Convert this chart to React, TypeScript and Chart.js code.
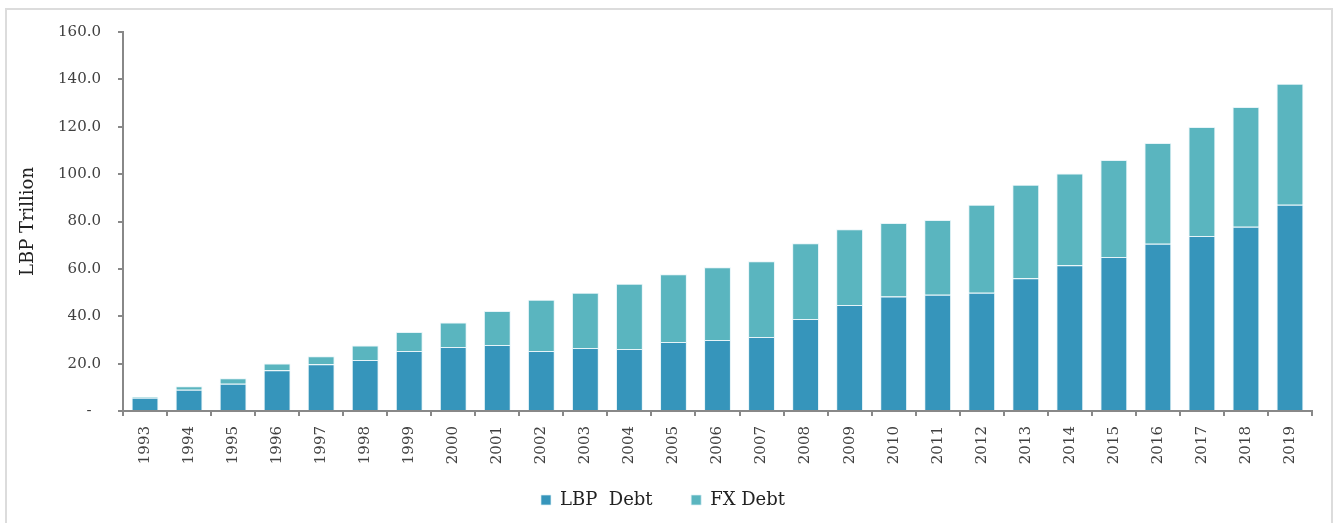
import React, { useEffect, useRef } from "react";
import { Chart, registerables } from "chart.js";

Chart.register(...registerables);

const years: string[] = [
  "1993", "1994", "1995", "1996", "1997", "1998", "1999", "2000", "2001",
  "2002", "2003", "2004", "2005", "2006", "2007", "2008", "2009", "2010",
  "2011", "2012", "2013", "2014", "2015", "2016", "2017", "2018", "2019",
];

// Debt in local currency (LBP trillion)
const lbpDebt: number[] = [
  5.6, 9.0, 11.5, 17.2, 19.7, 21.5, 25.3, 27.0, 27.9,
  25.3, 26.6, 26.2, 29.1, 30.0, 31.2, 38.8, 44.7, 48.3,
  49.1, 49.9, 56.0, 61.5, 65.0, 70.6, 73.9, 77.8, 87.1,
];

// Foreign-currency debt (LBP trillion), stacked on top
const fxDebt: number[] = [
  0.4, 1.4, 2.3, 2.9, 3.4, 6.2, 8.0, 10.4, 14.3,
  21.7, 23.3, 27.5, 28.6, 30.7, 32.0, 32.0, 32.0, 31.1,
  31.5, 37.2, 39.5, 38.8, 41.0, 42.5, 46.0, 50.5, 51.1,
];

const yTicks: number[] = [0, 20, 40, 60, 80, 100, 120, 140, 160];

const FONT = "'DejaVu Serif', 'Liberation Serif', serif";

export default function App() {
  const canvasRef = useRef<HTMLCanvasElement | null>(null);

  useEffect(() => {
    const canvas = canvasRef.current;
    if (!canvas) return;
    const chart = new Chart(canvas, {
      type: "bar",
      data: {
        labels: years,
        datasets: [
          {
            label: "LBP  Debt",
            data: lbpDebt,
            backgroundColor: "#3695bb",
            borderColor: "rgba(220,240,245,0.7)",
            borderWidth: 1,
            categoryPercentage: 1,
            barPercentage: 0.61,
          },
          {
            label: "FX Debt",
            data: fxDebt,
            backgroundColor: "#5ab5bf",
            borderColor: "rgba(220,240,245,0.7)",
            borderWidth: 1,
            categoryPercentage: 1,
            barPercentage: 0.61,
          },
        ],
      },
      options: {
        animation: false,
        responsive: false,
        layout: { padding: { left: 14, right: 24, top: 32, bottom: 4 } },
        plugins: {
          tooltip: { enabled: false },
          legend: {
            position: "bottom",
            labels: {
              boxWidth: 10,
              boxHeight: 10,
              padding: 10,
              color: "#222",
              font: { family: FONT, size: 18 },
              // widen the gap after the first entry without growing the legend height
              generateLabels: (c: any) => {
                const items = Chart.defaults.plugins.legend.labels.generateLabels(c);
                return items.map((it: any, i: number) =>
                  i < items.length - 1 ? { ...it, text: it.text + "     " } : it
                );
              },
            },
          },
        },
        scales: {
          x: {
            stacked: true,
            afterFit: (scale: any) => {
              scale.height = 70;
            },
            border: { color: "#888", width: 2 },
            grid: {
              offset: true,
              drawOnChartArea: false,
              color: "#888",
              lineWidth: 2,
              tickLength: 5,
            },
            ticks: {
              autoSkip: false,
              minRotation: 90,
              maxRotation: 90,
              padding: 10,
              color: "#404040",
              font: { family: FONT, size: 15 },
            },
          },
          y: {
            stacked: true,
            min: 0,
            max: 160,
            afterFit: (scale: any) => {
              scale.width = 109;
            },
            afterBuildTicks: (scale: any) => {
              scale.ticks = yTicks.map((v) => ({ value: v }));
            },
            border: { color: "#888", width: 2 },
            grid: {
              drawOnChartArea: false,
              color: "#888",
              lineWidth: 2,
              tickLength: 5,
            },
            ticks: {
              padding: 17,
              color: "#404040",
              font: { family: FONT, size: 15 },
              callback: (v: any) => (Number(v) === 0 ? "-  " : Number(v).toFixed(1)),
            },
            title: {
              display: true,
              text: "LBP Trillion",
              color: "#222",
              font: { family: FONT, size: 18 },
            },
          },
        },
      },
    });
    return () => chart.destroy();
  }, []);

  return (
    <div
      style={{
        position: "absolute",
        left: 0,
        top: 0,
        width: 1336,
        height: 523,
        overflow: "hidden",
        background: "#fff",
      }}
    >
      <div
        style={{
          position: "absolute",
          left: 5,
          top: 8,
          width: 1324,
          height: 600,
          border: "2px solid #dcdcdc",
        }}
      />
      <canvas
        ref={canvasRef}
        width={1336}
        height={523}
        style={{ position: "absolute", left: 0, top: 0 }}
      />
    </div>
  );
}
